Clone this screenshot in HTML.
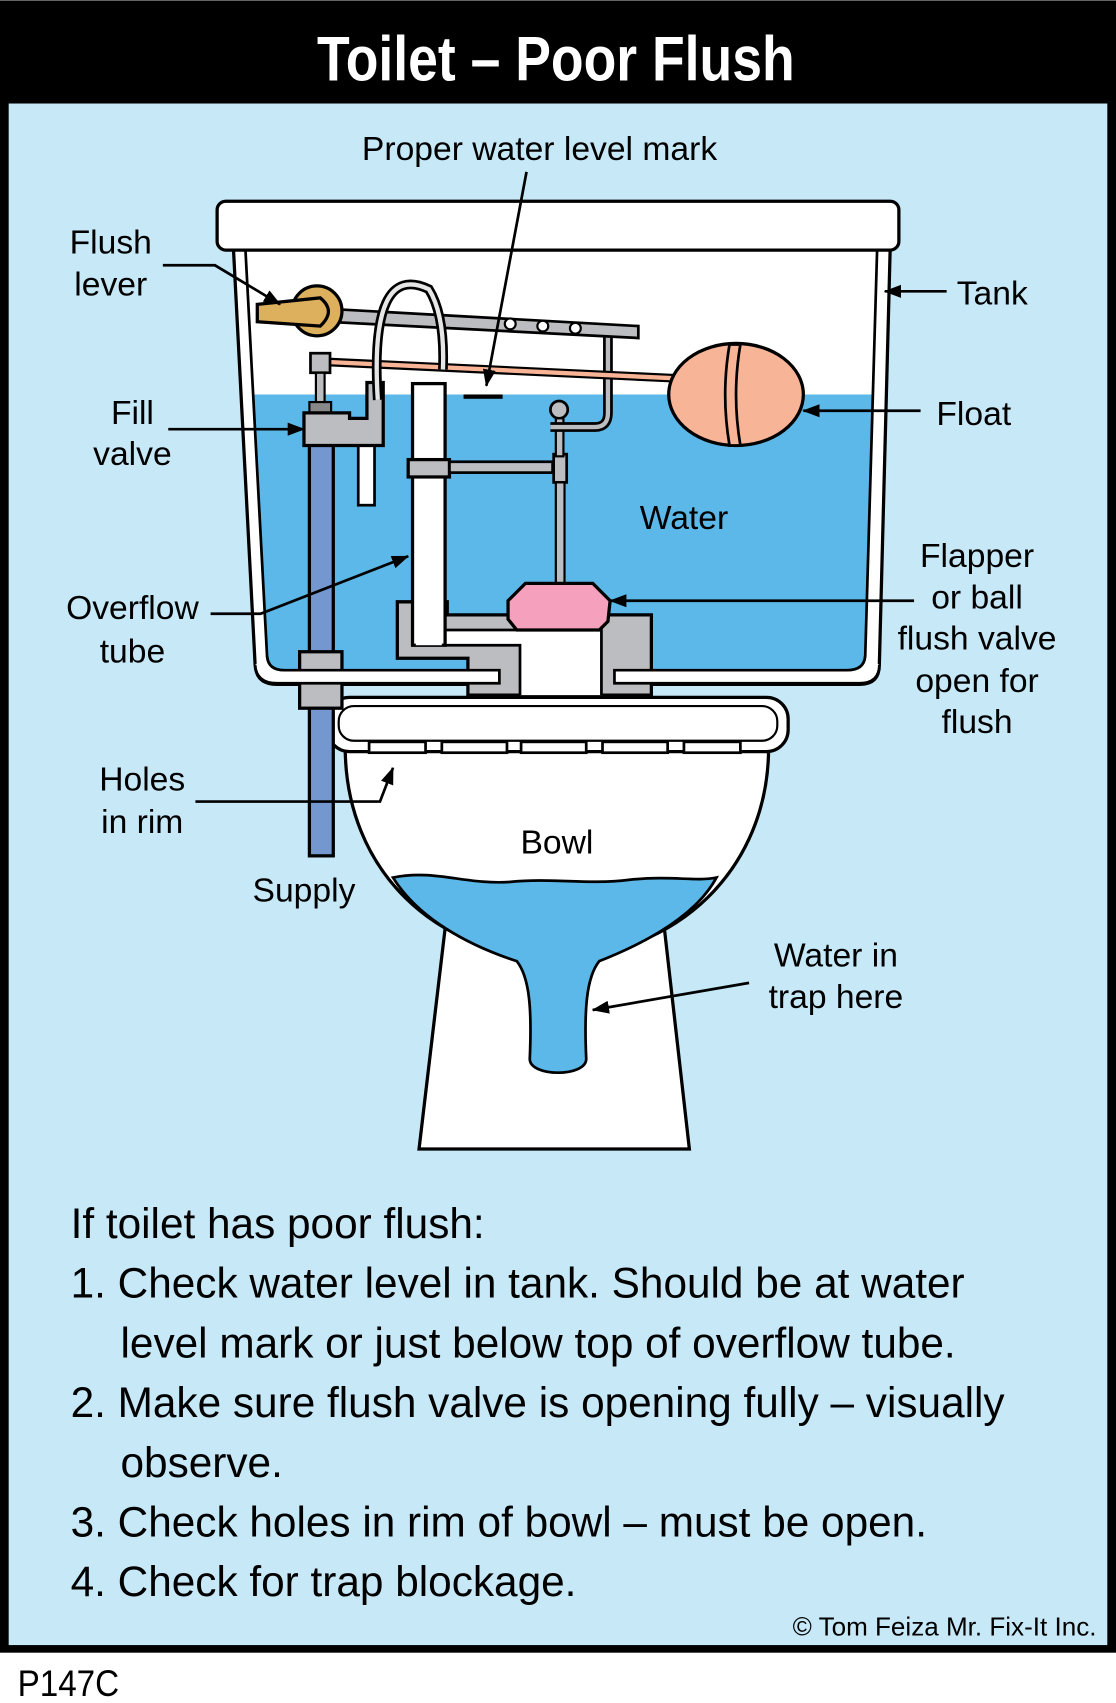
<!DOCTYPE html>
<html><head><meta charset="utf-8"><style>
html,body{margin:0;padding:0;background:#fff}
svg{display:block}
text{font-family:"Liberation Sans",sans-serif}
</style></head><body>
<svg width="1116" height="1703" viewBox="0 0 1028 1568" xmlns="http://www.w3.org/2000/svg">
<defs>
<marker id="b" markerWidth="16" markerHeight="12" refX="15" refY="6" orient="auto" markerUnits="userSpaceOnUse"><path d="M0,0 L16,6 L0,12 z" fill="#000"/></marker></defs>
<rect x="0" y="0" width="1028" height="1522" fill="#000"/>
<rect x="8" y="95" width="1012" height="1420" fill="#c6e8f7"/>
<text x="512" y="74" font-size="58" font-weight="bold" fill="#fff" text-anchor="middle" transform="translate(512 0) scale(0.85 1) translate(-512 0)">Toilet – Poor Flush</text>
<text x="18" y="1562" font-size="34" fill="#000" transform="scale(0.9 1)">P147C</text>

<!-- pedestal -->
<path d="M410,855 L612,855 L635,1058 L386,1058 Z" fill="#fff" stroke="#000" stroke-width="3"/>
<!-- bowl -->
<path d="M318,688 C318,800 400,880 512,882 C624,880 708,800 708,688 Z" fill="#fff" stroke="#000" stroke-width="3"/>
<path d="M362,808 C400,800 430,815 470,812 C510,808 540,815 580,810 C620,806 640,812 660,808 C640,845 590,870 552,885 C540,900 538,930 540,975 C540,992 488,992 488,975 C490,930 488,900 476,885 C430,870 385,845 362,808 Z" fill="#5bb8e8" stroke="#000" stroke-width="2.5"/>
<!-- rim -->
<rect x="302" y="642" width="424" height="50" rx="20" fill="#fff" stroke="#000" stroke-width="3"/>
<rect x="312" y="650" width="404" height="32" rx="14" fill="none" stroke="#000" stroke-width="2"/>
<g fill="#fff" stroke="#000" stroke-width="2.5">
<rect x="340" y="683" width="52" height="10"/><rect x="407" y="683" width="60" height="10"/><rect x="480" y="683" width="60" height="10"/><rect x="555" y="683" width="60" height="10"/><rect x="630" y="683" width="52" height="10"/></g>

<!-- supply pipe below tank -->
<rect x="285" y="640" width="22" height="148" fill="#7497cf" stroke="#000" stroke-width="3"/>

<!-- tank -->
<path d="M215,228 L235,612 Q236,630 255,630 L792,630 Q810,630 810,612 L820,228 Z" fill="#fff" stroke="#000" stroke-width="3"/>
<path d="M233,363 L804,363 L797,604 Q796,618 780,618 L262,618 Q247,618 246,604 Z" fill="#5bb8e8"/>
<path d="M226,228 L246,604 Q247,618 262,618 L780,618 Q796,618 797,604 L808,228" fill="none" stroke="#000" stroke-width="2.5"/>
<rect x="200" y="185" width="628" height="45" rx="8" fill="#fff" stroke="#000" stroke-width="3"/>

<!-- supply pipe in tank + coupler -->
<rect x="285" y="400" width="22" height="210" fill="#7497cf" stroke="#000" stroke-width="3"/>
<rect x="276" y="600" width="39" height="52" fill="#bcbdc0" stroke="#000" stroke-width="3"/>

<!-- flush valve base -->
<path d="M366,554 L412,554 L412,566 L600,566 L600,640 L431,640 L431,606 L366,606 Z" fill="#bcbdc0" stroke="#000" stroke-width="3"/>
<path d="M380,594 L380,580 L554,580 L554,640 L479,640 L479,594 Z" fill="#fff"/>
<path d="M380,594 L479,594 L479,640 M410,580 L554,580 L554,640" fill="none" stroke="#000" stroke-width="2.5"/>
<!-- tank bottom band over base -->
<path d="M246,604 Q247,617 262,617 L460,617 L460,629 L255,629 Q236,629 235,612" fill="#fff" stroke="#000" stroke-width="2.5"/>
<path d="M797,604 Q796,617 780,617 L566,617 L566,629 L792,629 Q810,629 810,612" fill="#fff" stroke="#000" stroke-width="2.5"/>

<!-- overflow tube -->
<rect x="380" y="353" width="30" height="241" fill="#fff" stroke="#000" stroke-width="3"/>
<rect x="383" y="582" width="24" height="12" fill="#fff"/>
<rect x="376" y="423" width="38" height="16" fill="#bcbdc0" stroke="#000" stroke-width="3"/>
<rect x="414" y="425" width="95" height="10" fill="#bcbdc0" stroke="#000" stroke-width="2.5"/>
<rect x="510" y="418" width="12" height="26" fill="#bcbdc0" stroke="#000" stroke-width="2.5"/>
<rect x="512" y="444" width="8" height="95" fill="#bcbdc0" stroke="#000" stroke-width="2"/>
<circle cx="515" cy="377" r="8" fill="#bcbdc0" stroke="#000" stroke-width="2.5"/>
<rect x="512" y="385" width="7" height="35" fill="#bcbdc0" stroke="#000" stroke-width="2"/>
<path d="M507,393 L548,393 Q560,393 560,380 L560,310" fill="none" stroke="#000" stroke-width="9"/>
<path d="M507,393 L548,393 Q560,393 560,380 L560,310" fill="none" stroke="#bcbdc0" stroke-width="4"/>
<!-- flapper -->
<path d="M484,537 L546,537 L562,553 L560,572 L552,580 L476,580 L468,570 L468,553 Z" fill="#f5a0bc" stroke="#000" stroke-width="3"/>
<!-- lever rod -->
<path d="M300,284 L588,300 L588,311 L300,296 Z" fill="#bcbdc0" stroke="#000" stroke-width="2.5"/>
<g fill="#fff" stroke="#000" stroke-width="2"><circle cx="470" cy="298" r="5"/><circle cx="500" cy="300" r="5"/><circle cx="530" cy="302" r="5"/></g>
<circle cx="292" cy="286" r="23" fill="#dcb05c" stroke="#000" stroke-width="3"/>
<path d="M237,280 L295,274 Q310,286 295,300 L237,296 Z" fill="#dcb05c" stroke="#000" stroke-width="3"/>
<!-- float arm -->
<path d="M300,333 L620,348" stroke="#000" stroke-width="8"/>
<path d="M300,333 L620,348" stroke="#f8b496" stroke-width="4"/>
<!-- fill valve -->
<rect x="286" y="325" width="18" height="18" fill="#bcbdc0" stroke="#000" stroke-width="2.5"/>
<rect x="291" y="343" width="8" height="30" fill="#bcbdc0" stroke="#000" stroke-width="2"/>
<rect x="285" y="370" width="20" height="10" fill="#888" stroke="#000" stroke-width="2"/>
<rect x="330" y="410" width="15" height="55" fill="#fff" stroke="#000" stroke-width="2.5"/>
<path d="M280,380 L322,380 L322,385 L338,385 L338,352 L353,352 L353,410 L280,410 Z" fill="#bcbdc0" stroke="#000" stroke-width="3"/>
<path d="M348,368 Q340,240 395,266 Q410,290 408,340" fill="none" stroke="#000" stroke-width="9"/>
<path d="M348,368 Q340,240 395,266 Q410,290 408,340" fill="none" stroke="#e6e6e6" stroke-width="4"/>
<rect x="427" y="363" width="36" height="4" fill="#000"/>
<!-- float -->
<ellipse cx="678" cy="363" rx="62" ry="47" fill="#f8b496" stroke="#000" stroke-width="3"/>
<path d="M672,317 Q664,363 672,410 L682,410 Q674,363 682,317 Z" fill="#f8b496" stroke="#000" stroke-width="2.5"/>

<!-- labels -->
<g font-size="31" fill="#000">
<text x="497" y="147" text-anchor="middle">Proper water level mark</text>
<text x="102" y="233" text-anchor="middle">Flush</text><text x="102" y="272" text-anchor="middle">lever</text>
<text x="122" y="390" text-anchor="middle">Fill</text><text x="122" y="428" text-anchor="middle">valve</text>
<text x="122" y="570" text-anchor="middle">Overflow</text><text x="122" y="610" text-anchor="middle">tube</text>
<text x="131" y="728" text-anchor="middle">Holes</text><text x="131" y="767" text-anchor="middle">in rim</text>
<text x="280" y="830" text-anchor="middle">Supply</text>
<text x="513" y="786" text-anchor="middle">Bowl</text>
<text x="630" y="487" text-anchor="middle">Water</text>
<text x="914" y="280" text-anchor="middle">Tank</text>
<text x="897" y="391" text-anchor="middle">Float</text>
<text x="900" y="522" text-anchor="middle">Flapper</text>
<text x="900" y="560" text-anchor="middle">or ball</text>
<text x="900" y="598" text-anchor="middle">flush valve</text>
<text x="900" y="637" text-anchor="middle">open for</text>
<text x="900" y="675" text-anchor="middle">flush</text>
<text x="770" y="890" text-anchor="middle">Water in</text>
<text x="770" y="928" text-anchor="middle">trap here</text>
</g>
<g stroke="#000" stroke-width="2.5" fill="none">
<path d="M485,158 L448,355" marker-end="url(#b)"/>
<path d="M150,244 L198,244 L258,280" marker-end="url(#b)"/>
<path d="M155,395 L280,395" marker-end="url(#b)"/>
<path d="M194,565 L240,565 L376,512" marker-end="url(#b)"/>
<path d="M180,738 L350,738 L362,707" marker-end="url(#b)"/>
<path d="M872,268 L815,268" marker-end="url(#b)"/>
<path d="M848,378 L740,378" marker-end="url(#b)"/>
<path d="M842,553 L562,553" marker-end="url(#b)"/>
<path d="M690,905 L546,930" marker-end="url(#b)"/>
</g>
<g font-size="39" fill="#000">
<text x="65" y="1140">If toilet has poor flush:</text>
<text x="65" y="1195">1. Check water level in tank. Should be at water</text>
<text x="111" y="1250">level mark or just below top of overflow tube.</text>
<text x="65" y="1305">2. Make sure flush valve is opening fully – visually</text>
<text x="111" y="1360">observe.</text>
<text x="65" y="1415">3. Check holes in rim of bowl – must be open.</text>
<text x="65" y="1470">4. Check for trap blockage.</text>
</g>
<text x="1010" y="1506" font-size="24" text-anchor="end">© Tom Feiza Mr. Fix-It Inc.</text>
</svg>
</body></html>
